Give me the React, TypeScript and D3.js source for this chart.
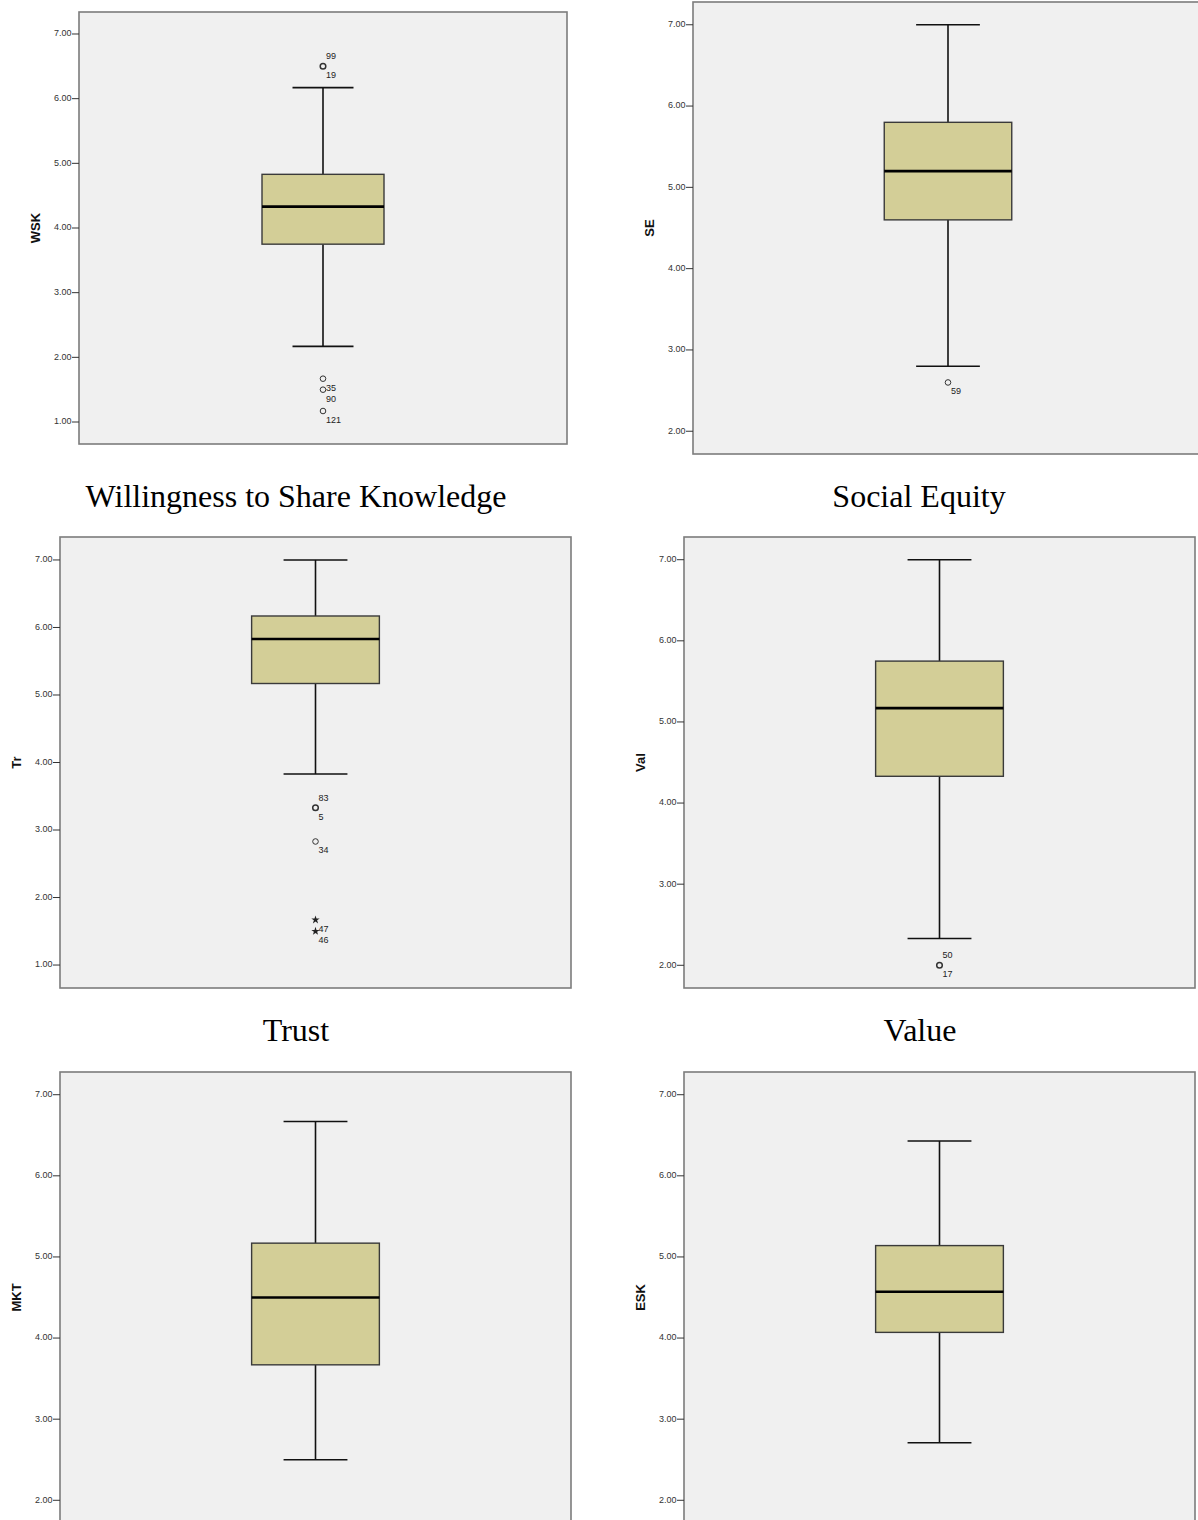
import React from 'react';
import * as d3 from 'd3';

// Boxplot summaries for each scale (five-number summaries)
const variables = ['WSK', 'SE', 'Tr', 'Val', 'MKT', 'ESK'];
const titles = ['Willingness to Share Knowledge', 'Social Equity', 'Trust', 'Value'];
const lowerWhisker = [2.17, 2.8, 3.83, 2.33, 2.5, 2.71];
const q1 = [3.75, 4.6, 5.17, 4.33, 3.67, 4.07];
const medians = [4.33, 5.2, 5.83, 5.17, 4.5, 4.57];
const q3 = [4.83, 5.8, 6.17, 5.75, 5.17, 5.14];
const upperWhisker = [6.17, 7.0, 7.0, 7.0, 6.67, 6.43];

type Outlier = { value: number; below?: string; above?: string; extreme?: boolean; count?: number };

const outliersWSK: Outlier[] = [
  { value: 6.5, above: '99', below: '19', count: 2 },
  { value: 1.67, below: '35' },
  { value: 1.5, below: '90' },
  { value: 1.17, below: '121' },
];
const outliersSE: Outlier[] = [{ value: 2.6, below: '59' }];
const outliersTr: Outlier[] = [
  { value: 3.33, above: '83', below: '5', count: 2 },
  { value: 2.83, below: '34' },
  { value: 1.67, below: '47', extreme: true },
  { value: 1.5, below: '46', extreme: true },
];
const outliersVal: Outlier[] = [{ value: 2.0, above: '50', below: '17', count: 2 }];
const outliersMKT: Outlier[] = [];
const outliersESK: Outlier[] = [];
const outliers = [outliersWSK, outliersSE, outliersTr, outliersVal, outliersMKT, outliersESK];

// Axis ranges and tick values per panel
const axisMin = [0.66, 1.72, 0.66, 1.72, 1.72, 1.72];
const axisMax = [7.34, 7.28, 7.34, 7.28, 7.28, 7.28];
const ticksFull = [1, 2, 3, 4, 5, 6, 7];
const ticksFromTwo = [2, 3, 4, 5, 6, 7];
const tickValues = [ticksFull, ticksFromTwo, ticksFull, ticksFromTwo, ticksFromTwo, ticksFromTwo];

// Layout of each panel frame and of the captions
const panels = [
  { x: 79, y: 12, w: 488, h: 432 },
  { x: 693, y: 2, w: 510, h: 452 },
  { x: 60, y: 537, w: 511, h: 451 },
  { x: 684, y: 537, w: 511, h: 451 },
  { x: 60, y: 1072, w: 511, h: 451 },
  { x: 684, y: 1072, w: 511, h: 451 },
];
const titlePos = [
  { x: 296, y: 507 },
  { x: 919, y: 507 },
  { x: 296, y: 1041 },
  { x: 920, y: 1041 },
];

const BOX_FILL = '#d3ce97';
const BG = '#f0f0f0';
const SANS = '"Liberation Sans", Arial, sans-serif';
const SERIF = '"Liberation Serif", "Times New Roman", serif';
const fmt = d3.format('.2f');
const starPath = d3.symbol().type(d3.symbolStar).size(22)() as string;

function BoxPanel({ i }: { i: number }) {
  const p = panels[i];
  const y = d3.scaleLinear().domain([axisMin[i], axisMax[i]]).range([p.y + p.h, p.y]);
  const x = d3.scaleBand<string>().domain([variables[i]]).range([p.x, p.x + p.w]).padding(0.6);
  const bw = x.bandwidth();
  const x0 = x(variables[i]) as number;
  const cx = x0 + bw / 2;
  const capHalf = bw / 4;
  return (
    <g>
      <rect x={p.x} y={p.y} width={p.w} height={p.h} fill={BG} stroke="#7c7c7c" strokeWidth={1.6} />
      {/* whiskers */}
      <line x1={cx} x2={cx} y1={y(q3[i])} y2={y(upperWhisker[i])} stroke="#111" strokeWidth={1.6} />
      <line x1={cx} x2={cx} y1={y(q1[i])} y2={y(lowerWhisker[i])} stroke="#111" strokeWidth={1.6} />
      <line x1={cx - capHalf} x2={cx + capHalf} y1={y(upperWhisker[i])} y2={y(upperWhisker[i])} stroke="#111" strokeWidth={1.6} />
      <line x1={cx - capHalf} x2={cx + capHalf} y1={y(lowerWhisker[i])} y2={y(lowerWhisker[i])} stroke="#111" strokeWidth={1.6} />
      {/* box */}
      <rect x={x0} y={y(q3[i])} width={bw} height={y(q1[i]) - y(q3[i])} fill={BOX_FILL} stroke="#3a3a3a" strokeWidth={1.4} />
      <line x1={x0} x2={x0 + bw} y1={y(medians[i])} y2={y(medians[i])} stroke="#000" strokeWidth={2.6} />
      {/* outliers */}
      {outliers[i].map((o, k) => (
        <g key={k}>
          {o.extreme ? (
            <path d={starPath} transform={`translate(${cx},${y(o.value)})`} fill="#222" />
          ) : (
            <circle cx={cx} cy={y(o.value)} r={2.8} fill="none" stroke="#333" strokeWidth={(o.count ?? 1) > 1 ? 1.5 : 1} />
          )}
          {o.above && (
            <text x={cx + 3} y={y(o.value) - 9.5} fontSize={9} fontFamily={SANS} fill="#222" dominantBaseline="middle">
              {o.above}
            </text>
          )}
          {o.below && (
            <text x={cx + 3} y={y(o.value) + 9.5} fontSize={9} fontFamily={SANS} fill="#222" dominantBaseline="middle">
              {o.below}
            </text>
          )}
        </g>
      ))}
      {/* y axis ticks */}
      {tickValues[i].map((t) => (
        <g key={t}>
          <line x1={p.x - 7} x2={p.x} y1={y(t)} y2={y(t)} stroke="#333" strokeWidth={1} />
          <text x={p.x - 7.5} y={y(t)} textAnchor="end" dominantBaseline="middle" fontSize={9} fontFamily={SANS} fill="#333">
            {fmt(t)}
          </text>
        </g>
      ))}
      <text
        transform={`translate(${p.x - 42},${p.y + p.h / 2}) rotate(-90)`}
        textAnchor="middle"
        dominantBaseline="middle"
        fontSize={13}
        fontWeight="bold"
        fontFamily={SANS}
        fill="#111"
      >
        {variables[i]}
      </text>
    </g>
  );
}

export default function App() {
  return (
    <div style={{ position: 'absolute', left: 0, top: 0 }}>
      <svg width={1198} height={1520} style={{ display: 'block', background: '#fff' }}>
        {variables.map((v, i) => (
          <BoxPanel key={v} i={i} />
        ))}
        {titles.map((t, i) => (
          <text key={t} x={titlePos[i].x} y={titlePos[i].y} textAnchor="middle" fontSize={32} fontFamily={SERIF} fill="#000">
            {t}
          </text>
        ))}
      </svg>
    </div>
  );
}
